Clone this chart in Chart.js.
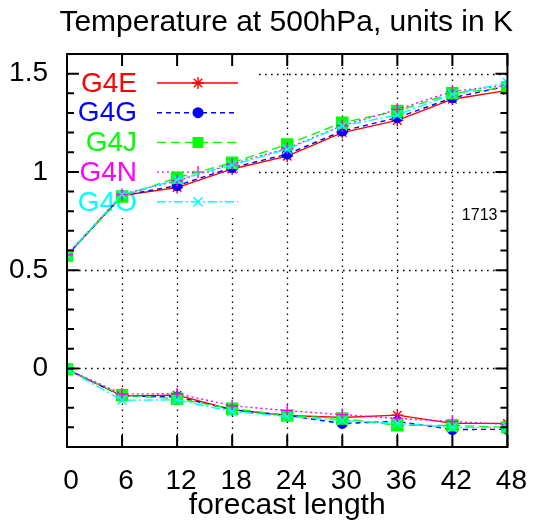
<!DOCTYPE html>
<html>
<head>
<meta charset="utf-8">
<script src="https://cdn.jsdelivr.net/npm/chart.js@4"></script>
<style>
html,body{margin:0;padding:0;background:#fff;}
#wrap{width:540px;height:525px;}
</style>
</head>
<body>
<div id="wrap"><canvas id="c" width="540" height="525"></canvas></div>
<script>
const categories = [0, 6, 12, 18, 24, 30, 36, 42, 48];
const xTickValues = [0, 6, 12, 18, 24, 30, 36, 42, 48];
const yTickValues = [0, 0.5, 1, 1.5];
const yTickLabels = ['0', '0.5', '1', '1.5'];
const seriesNames = ['G4E', 'G4G', 'G4J', 'G4N', 'G4O'];

const upperG4E = [0.575, 0.88, 0.92, 1.015, 1.08, 1.200, 1.262, 1.370, 1.415];
const upperG4G = [0.575, 0.88, 0.93, 1.022, 1.09, 1.208, 1.276, 1.377, 1.437];
const upperG4J = [0.575, 0.875, 0.97, 1.047, 1.14, 1.250, 1.310, 1.400, 1.430];
const upperG4N = [0.578, 0.885, 0.955, 1.040, 1.12, 1.235, 1.318, 1.410, 1.440];
const upperG4O = [0.578, 0.885, 0.960, 1.035, 1.115, 1.234, 1.290, 1.395, 1.455];

const lowerG4E = [-0.005, -0.140, -0.136, -0.210, -0.240, -0.250, -0.238, -0.280, -0.280];
const lowerG4G = [-0.005, -0.140, -0.145, -0.210, -0.240, -0.280, -0.270, -0.311, -0.310];
const lowerG4J = [-0.005, -0.137, -0.154, -0.205, -0.240, -0.255, -0.290, -0.290, -0.300];
const lowerG4N = [-0.005, -0.130, -0.129, -0.190, -0.215, -0.235, -0.255, -0.270, -0.285];
const lowerG4O = [-0.005, -0.162, -0.160, -0.220, -0.245, -0.265, -0.280, -0.300, -0.300];

const titleText = 'Temperature at 500hPa, units in K';
const xTitleText = 'forecast length';
const cornerText = '1713';

const styles = [
  {color: '#ff0000', dash: [], point: 'star', radius: 6},
  {color: '#0000ff', dash: [5, 4], point: 'circle', radius: 4.8},
  {color: '#00ff00', dash: [9, 5], point: 'rect', radius: 7.8},
  {color: '#ff00ff', dash: [2, 3], point: 'cross', radius: 6},
  {color: '#00ffff', dash: [9, 3, 2, 3], point: 'crossRot', radius: 6.5}
];
const upperSets = [upperG4E, upperG4G, upperG4J, upperG4N, upperG4O];
const lowerSets = [lowerG4E, lowerG4G, lowerG4J, lowerG4N, lowerG4O];

function mkData(vals) { return categories.map((x, i) => ({x: x, y: vals[i]})); }

const datasets = [];
[lowerSets, upperSets].forEach(group => {
  group.forEach((vals, i) => {
    const s = styles[i];
    datasets.push({
      label: seriesNames[i],
      data: mkData(vals),
      order: 4 - i,
      borderColor: s.color,
      backgroundColor: s.color,
      borderWidth: 1.4,
      borderDash: s.dash,
      pointStyle: s.point,
      pointRadius: s.radius,
      pointBorderWidth: 1.4,
      pointBorderColor: s.color,
      pointBackgroundColor: s.color,
      tension: 0,
      fill: false
    });
  });
});

const FONT = '"Liberation Sans", Arial, sans-serif';

function drawMarker(ctx, style, r, x, y, color) {
  ctx.save();
  ctx.setLineDash([]);
  ctx.strokeStyle = color; ctx.fillStyle = color; ctx.lineWidth = 1.4;
  if (Chart.helpers && Chart.helpers.drawPoint) {
    Chart.helpers.drawPoint(ctx, {pointStyle: style, radius: r, borderWidth: 1.4, rotation: 0}, x, y);
  }
  ctx.restore();
}

const framePlugin = {
  id: 'framePlugin',
  beforeDatasetsDraw(chart) {
    const ctx = chart.ctx, a = chart.chartArea;
    const xs = chart.scales.x, ys = chart.scales.y;
    ctx.save();
    // dotted grid
    ctx.strokeStyle = '#000'; ctx.lineWidth = 1.3; ctx.setLineDash([1.6, 4.4]);
    xTickValues.forEach(v => {
      if (v === xs.min || v === xs.max) return;
      const px = Math.round(xs.getPixelForValue(v)) + 0.5;
      ctx.beginPath(); ctx.moveTo(px, a.bottom); ctx.lineTo(px, a.top); ctx.stroke();
    });
    yTickValues.forEach(v => {
      const py = Math.round(ys.getPixelForValue(v)) + 0.5;
      ctx.beginPath(); ctx.moveTo(a.left, py); ctx.lineTo(a.right, py); ctx.stroke();
    });
    ctx.setLineDash([]);
    // legend box
    const lx0 = a.left + 2, ly0 = a.top + 2;
    ctx.fillStyle = '#fff';
    ctx.fillRect(lx0, ly0, 188, 162);
    ctx.font = '28px ' + FONT;
    ctx.textAlign = 'right'; ctx.textBaseline = 'middle';
    seriesNames.forEach((n, i) => {
      const s = styles[i];
      const ry = a.top + 29 + 29.7 * i;
      ctx.fillStyle = s.color;
      ctx.fillText(n, a.left + 70, ry + 1);
      ctx.strokeStyle = s.color; ctx.lineWidth = 1.4; ctx.setLineDash(s.dash);
      ctx.beginPath(); ctx.moveTo(a.left + 90, ry); ctx.lineTo(a.left + 171, ry); ctx.stroke();
      ctx.setLineDash([]);
      drawMarker(ctx, s.point, s.point === 'rect' ? 6.8 : s.radius, a.left + 131, ry, s.color);
    });
    ctx.restore();
  },
  afterDraw(chart) {
    const ctx = chart.ctx, a = chart.chartArea;
    const xs = chart.scales.x, ys = chart.scales.y;
    ctx.save();
    ctx.strokeStyle = '#000'; ctx.setLineDash([]);
    ctx.lineWidth = 2;
    ctx.strokeRect(a.left, a.top, a.right - a.left, a.bottom - a.top);
    // x ticks inward, top and bottom
    xTickValues.forEach(v => {
      const px = xs.getPixelForValue(v);
      ctx.beginPath();
      ctx.moveTo(px, a.bottom); ctx.lineTo(px, a.bottom - 12);
      ctx.moveTo(px, a.top); ctx.lineTo(px, a.top + 12);
      ctx.stroke();
    });
    // y ticks inward, every 0.1, longer on 0.5
    for (let k = -4; k <= 16; k++) {
      const v = k / 10;
      const py = ys.getPixelForValue(v);
      const len = (k % 5 === 0) ? 12 : 7;
      ctx.beginPath();
      ctx.moveTo(a.left, py); ctx.lineTo(a.left + len, py);
      ctx.moveTo(a.right, py); ctx.lineTo(a.right - len, py);
      ctx.stroke();
    }
    // titles
    ctx.fillStyle = '#000';
    ctx.font = '30px ' + FONT;
    ctx.textAlign = 'center'; ctx.textBaseline = 'middle';
    ctx.fillText(titleText, (a.left + a.right) / 2 - 1, 23);
    ctx.fillText(xTitleText, (a.left + a.right) / 2, 506);
    ctx.font = '16px ' + FONT;
    ctx.textAlign = 'right';
    ctx.fillText(cornerText, a.right - 10, 216);
    ctx.restore();
  }
};

new Chart(document.getElementById('c'), {
  type: 'line',
  data: {datasets: datasets},
  options: {
    responsive: false,
    animation: false,
    devicePixelRatio: 1,
    layout: {padding: {top: 54, right: 22, left: 0, bottom: 0}},
    plugins: {legend: {display: false}, title: {display: false}, tooltip: {enabled: false}},
    scales: {
      x: {
        type: 'linear', min: 0, max: 48,
        afterBuildTicks(scale) { scale.ticks = xTickValues.map(v => ({value: v})); },
        afterFit(scale) { scale.height = 78; },
        grid: {display: false, drawTicks: false},
        border: {display: false},
        ticks: {
          padding: 17, labelOffset: 4, color: '#000', maxRotation: 0, autoSkip: false,
          font: {family: FONT, size: 28},
          callback: (v) => String(v)
        }
      },
      y: {
        type: 'linear', min: -0.4, max: 1.6,
        afterBuildTicks(scale) { scale.ticks = yTickValues.map(v => ({value: v})); },
        afterFit(scale) { scale.width = 67; },
        grid: {display: false, drawTicks: false},
        border: {display: false},
        ticks: {
          padding: 19, color: '#000', autoSkip: false,
          font: {family: FONT, size: 28},
          callback: (v) => { const i = yTickValues.indexOf(v); return i >= 0 ? yTickLabels[i] : ''; }
        }
      }
    }
  },
  plugins: [framePlugin]
});
</script>
</body>
</html>
